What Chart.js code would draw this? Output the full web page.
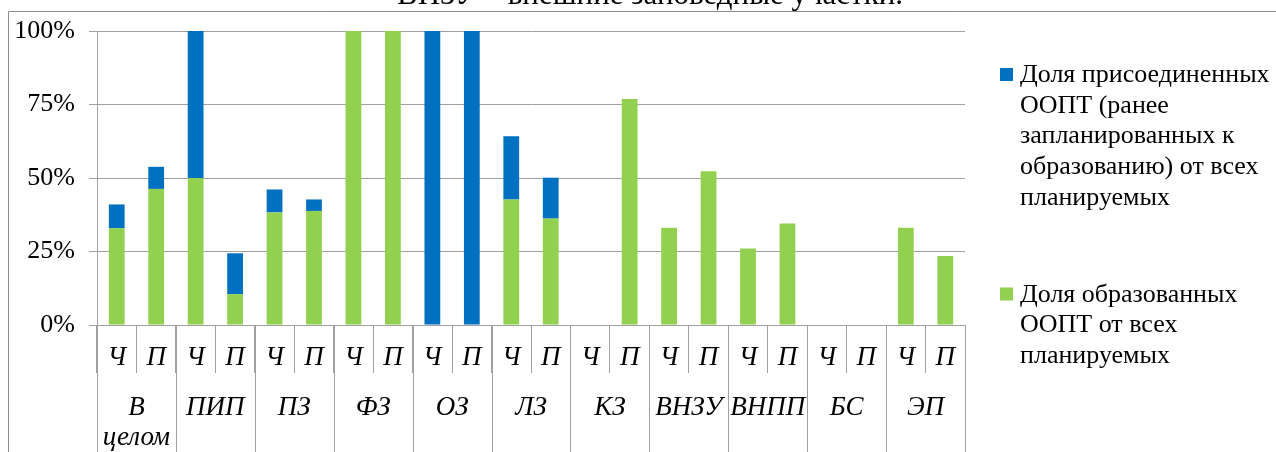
<!DOCTYPE html>
<html lang="ru">
<head>
<meta charset="utf-8">
<script src="https://cdn.jsdelivr.net/npm/chart.js@4"></script>
<style>
  html, body { margin: 0; padding: 0; background: #fff; overflow: hidden; }
  .warm { position: absolute; left: -999px; top: 0; font-family: "Liberation Serif"; font-size: 24px; }
</style>
</head>
<body>
<span class="warm">ВНЗУ Доля 100%</span><span class="warm" style="font-style: italic">Ч П ВНЗУ</span>
<canvas id="chart" width="1276" height="452"></canvas>
<script>
// Ч / П under every bar, two bars per group
const subLabels = ['Ч', 'П', 'Ч', 'П', 'Ч', 'П', 'Ч', 'П', 'Ч', 'П', 'Ч', 'П',
                   'Ч', 'П', 'Ч', 'П', 'Ч', 'П', 'Ч', 'П', 'Ч', 'П'];
const groups = [['В', 'целом'], ['ПИП'], ['ПЗ'], ['ФЗ'], ['ОЗ'], ['ЛЗ'], ['КЗ'],
                ['ВНЗУ'], ['ВНПП'], ['БС'], ['ЭП']];

// share of formed protected areas, %
const formed = [32.9, 46.3, 50, 10.5, 38.3, 38.8, 100, 100, 0, 0, 42.7, 36.2,
                0, 76.9, 33.1, 52.3, 26.0, 34.5, 0, 0, 33.1, 23.5];
// share of joined protected areas, %
const joined = [8.1, 7.5, 50, 13.9, 7.8, 3.9, 0, 0, 100, 100, 21.5, 13.9,
                0, 0, 0, 0, 0, 0, 0, 0, 0, 0];

const formedName = ['Доля образованных', 'ООПТ от всех', 'планируемых'];
const joinedName = ['Доля присоединенных', 'ООПТ (ранее', 'запланированных к',
                    'образованию) от всех', 'планируемых'];
const yTicks = [0, 25, 50, 75, 100];
const caption = 'ВНЗУ – внешние заповедные участки.';

const SERIF = '"Liberation Serif", "Times New Roman", serif';
const GREEN = '#92D050';
const BLUE = '#0070C0';
const LINE = '#a0a0a0';

const extras = {
  id: 'extras',
  beforeDraw(chart) {
    const ctx = chart.ctx;
    ctx.save();
    // outer frame (top and left edges)
    ctx.strokeStyle = '#8c8c8c';
    ctx.lineWidth = 1;
    ctx.beginPath();
    ctx.moveTo(8.5, chart.height);
    ctx.lineTo(8.5, 11.5);
    ctx.lineTo(chart.width, 11.5);
    ctx.stroke();
    // caption line above the frame
    ctx.fillStyle = '#000';
    ctx.font = '31px ' + SERIF;
    ctx.textAlign = 'center';
    ctx.textBaseline = 'alphabetic';
    ctx.fillText(caption, 650, 4);
    ctx.restore();
  },
  afterDraw(chart) {
    const ctx = chart.ctx;
    const x = chart.scales.x;
    const area = chart.chartArea;
    const half = (x.getPixelForValue(1) - x.getPixelForValue(0)) / 2;
    const edge = i => x.getPixelForValue(i) - half;

    ctx.save();
    // group separators and names
    ctx.strokeStyle = LINE;
    ctx.lineWidth = 1;
    for (let g = 0; g <= groups.length; g++) {
      const px = Math.round(edge(g * 2)) + 0.5;
      ctx.beginPath();
      ctx.moveTo(px, area.bottom);
      ctx.lineTo(px, chart.height);
      ctx.stroke();
    }
    ctx.fillStyle = '#000';
    ctx.font = 'italic 27px ' + SERIF;
    ctx.textAlign = 'center';
    ctx.textBaseline = 'alphabetic';
    groups.forEach((lines, g) => {
      const cx = (edge(g * 2) + edge(g * 2 + 2)) / 2;
      lines.forEach((t, k) => ctx.fillText(t, cx, 415 + k * 30));
    });

    // legend, top entry is the upper part of the stack
    const items = [
      { color: BLUE, lines: joinedName },
      { color: GREEN, lines: formedName }
    ];
    ctx.font = '26px ' + SERIF;
    ctx.textAlign = 'left';
    let base = 82;
    items.forEach(it => {
      ctx.fillStyle = it.color;
      ctx.fillRect(1000, base - 14, 13, 13);
      ctx.fillStyle = '#000';
      it.lines.forEach((t, k) => ctx.fillText(t, 1020, base + k * 30.7));
      base += it.lines.length * 30.7 + 66;
    });
    ctx.restore();
  }
};

function draw() {
  new Chart(document.getElementById('chart'), {
    type: 'bar',
    data: {
      labels: subLabels,
      datasets: [
        { label: formedName.join(' '), data: formed, backgroundColor: GREEN },
        { label: joinedName.join(' '), data: joined, backgroundColor: BLUE }
      ]
    },
    options: {
      responsive: false,
      animation: false,
      layout: { padding: { left: 0, top: 31, right: 311, bottom: 0 } },
      datasets: { bar: { barPercentage: 0.4, categoryPercentage: 1 } },
      plugins: { legend: { display: false }, tooltip: { enabled: false } },
      scales: {
        x: {
          stacked: true,
          ticks: {
            color: '#000',
            font: { family: SERIF, size: 27, style: 'italic' },
            padding: -31,
            maxRotation: 0,
            autoSkip: false
          },
          grid: { drawOnChartArea: false, tickLength: 48, color: LINE, offset: true },
          border: { color: LINE },
          afterFit: s => { s.height = 127; }
        },
        y: {
          stacked: true,
          min: 0,
          max: 100,
          afterBuildTicks: s => { s.ticks = yTicks.map(v => ({ value: v })); },
          ticks: {
            color: '#000',
            font: { family: SERIF, size: 26 },
            padding: 14,
            callback: v => v + '%'
          },
          grid: { color: LINE, tickLength: 8 },
          border: { color: LINE },
          afterFit: s => { s.width = 97; }
        }
      }
    },
    plugins: [extras]
  });
}

Promise.all([
  document.fonts.load('24px "Liberation Serif"', 'ДоляЧ'),
  document.fonts.load('italic 24px "Liberation Serif"', 'ДоляЧ')
]).then(draw, draw);
</script>
</body>
</html>
